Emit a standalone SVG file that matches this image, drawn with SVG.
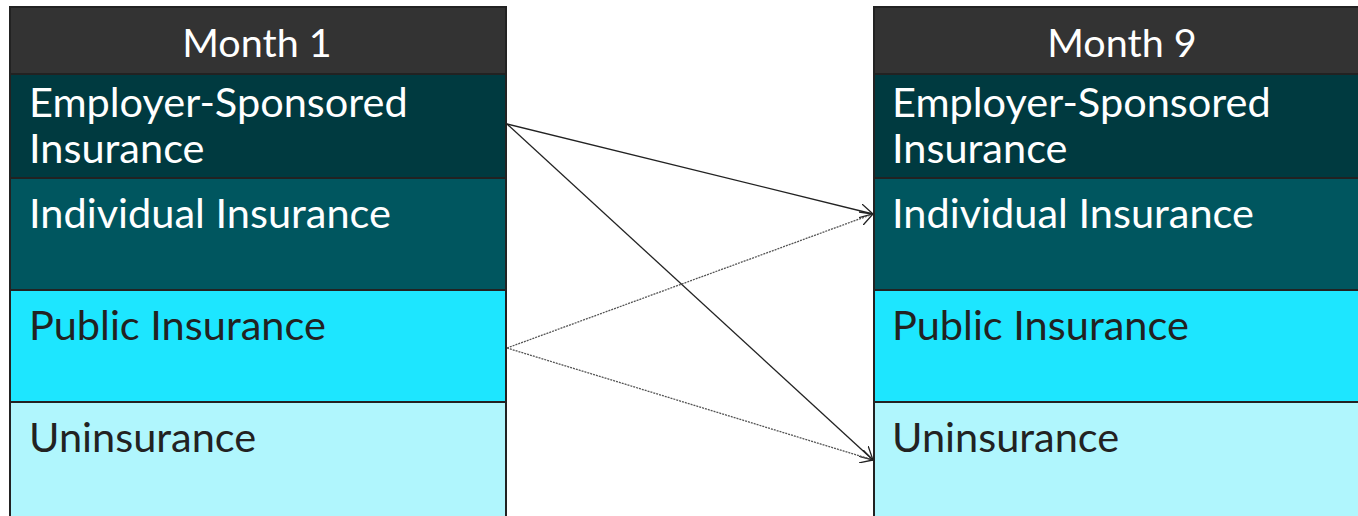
<svg xmlns="http://www.w3.org/2000/svg" width="1358" height="516" viewBox="0 0 1358 516">
<style>
.hdr{fill:#333333;stroke:#222;stroke-width:2}
.r1{fill:#003a40;stroke:#222;stroke-width:2}
.r2{fill:#00565f;stroke:#222;stroke-width:2}
.r3{fill:#1de6ff;stroke:#222;stroke-width:2}
.r4{fill:#b0f6fd;stroke:#222;stroke-width:2}
text{font-family:Lato,"Liberation Sans",sans-serif;font-size:41.5px}
.ht{fill:#fff;text-anchor:middle;font-size:39.5px}
.lt{fill:#fff}
.dt{fill:#222}
.c{fill:none;stroke:#222;stroke-width:1.3}
.d{stroke:#555;stroke-dasharray:2 1}
</style>
<defs>
<marker id="ah" viewBox="0 0 14 14" refX="13" refY="7" markerWidth="14" markerHeight="14" markerUnits="userSpaceOnUse" orient="auto">
<path d="M0,0 L13,7 L0,14" fill="none" stroke="#222" stroke-width="1.3"/>
</marker>
</defs>
<g id="month1">
<rect class="hdr" x="10" y="7" width="496" height="67"/>
<text class="ht" x="257" y="57">Month 1</text>
<rect class="r1" x="10" y="74" width="496" height="104"/>
<text class="lt" x="29" y="117">Employer-Sponsored</text>
<text class="lt" x="29" y="163">Insurance</text>
<rect class="r2" x="10" y="178" width="496" height="112"/>
<text class="lt" x="29" y="228">Individual Insurance</text>
<rect class="r3" x="10" y="290" width="496" height="112"/>
<text class="dt" x="29" y="340">Public Insurance</text>
<rect class="r4" x="10" y="402" width="496" height="120"/>
<text class="dt" x="29" y="452">Uninsurance</text>
</g>
<g id="month9">
<rect class="hdr" x="874" y="7" width="496" height="67"/>
<text class="ht" x="1122" y="57">Month 9</text>
<rect class="r1" x="874" y="74" width="496" height="104"/>
<text class="lt" x="892" y="117">Employer-Sponsored</text>
<text class="lt" x="892" y="163">Insurance</text>
<rect class="r2" x="874" y="178" width="496" height="112"/>
<text class="lt" x="892" y="228">Individual Insurance</text>
<rect class="r3" x="874" y="290" width="496" height="112"/>
<text class="dt" x="892" y="340">Public Insurance</text>
<rect class="r4" x="874" y="402" width="496" height="120"/>
<text class="dt" x="892" y="452">Uninsurance</text>
</g>
<g id="connectors">
<line class="c" x1="507" y1="124" x2="873" y2="214" marker-end="url(#ah)"/>
<line class="c" x1="507" y1="124" x2="873" y2="460" marker-end="url(#ah)"/>
<line class="c d" x1="507" y1="348" x2="873" y2="214" marker-end="url(#ah)"/>
<line class="c d" x1="507" y1="348" x2="873" y2="460" marker-end="url(#ah)"/>
</g>
</svg>
